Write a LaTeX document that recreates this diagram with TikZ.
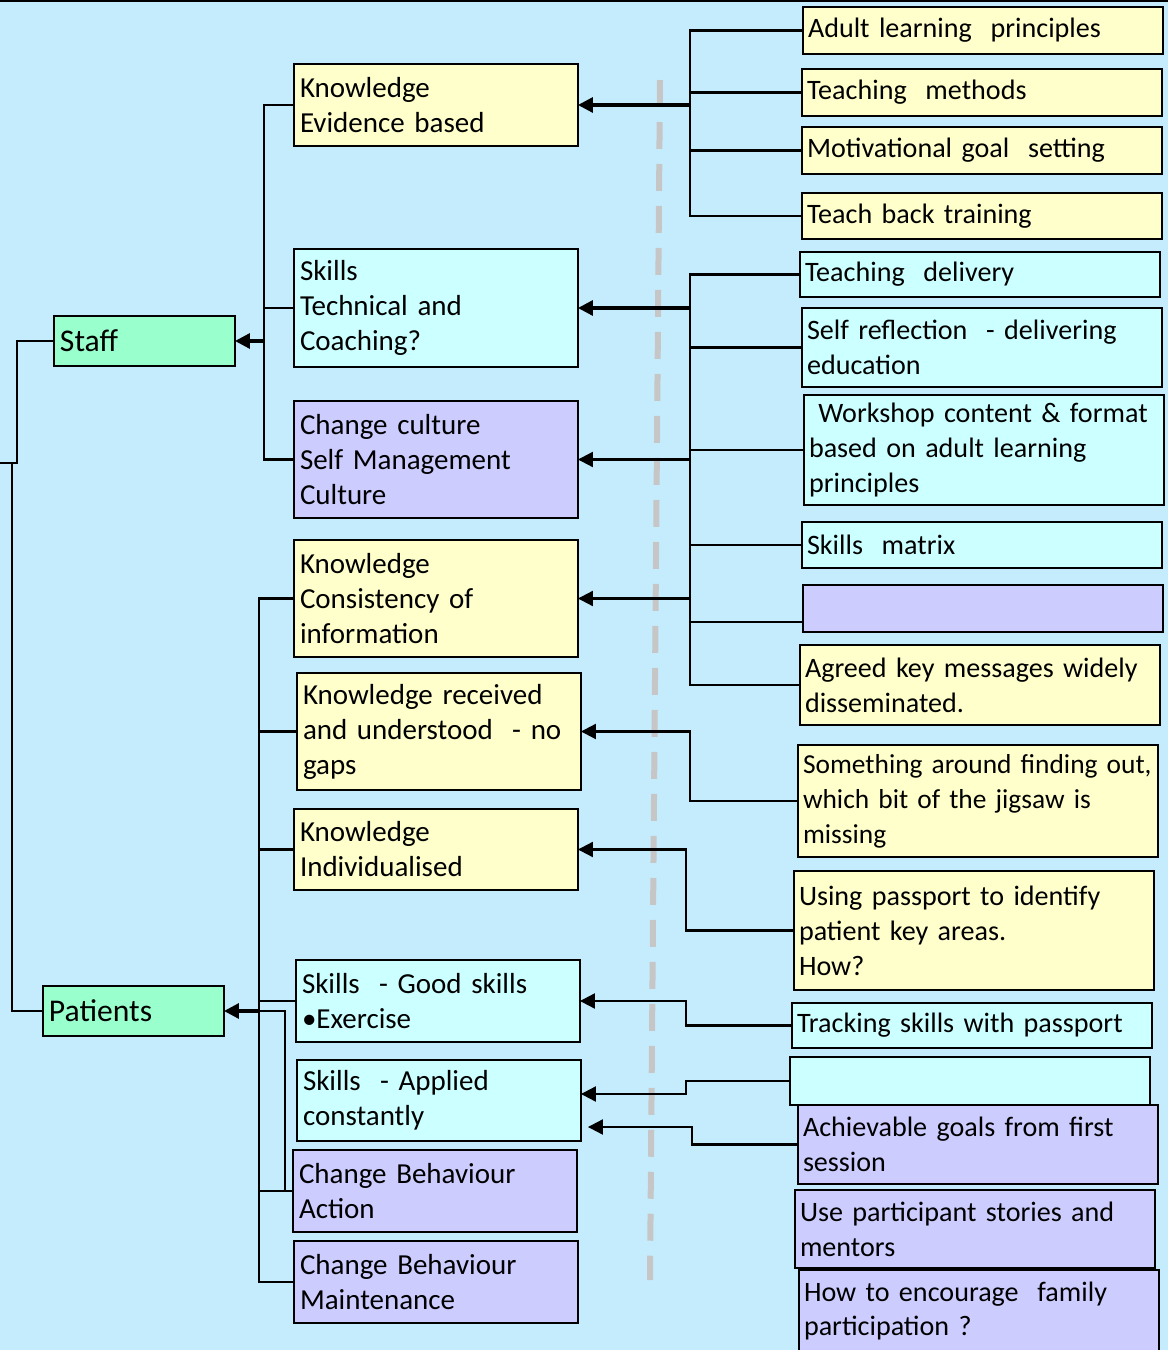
\documentclass[tikz,border=0pt]{standalone}
\usepackage{fontspec}
\setmainfont{Carlito}
\definecolor{slideblue}{RGB}{197, 236, 253}
\definecolor{boxyellow}{RGB}{255, 255, 204}
\definecolor{boxcyan}{RGB}{204, 255, 255}
\definecolor{boxlilac}{RGB}{204, 204, 255}
\definecolor{boxgreen}{RGB}{153, 255, 204}
\definecolor{dashgrey}{RGB}{198, 198, 198}
\usetikzlibrary{arrows.meta}

\begin{document}
\begin{tikzpicture}[x=0.02cm, y=-0.02cm,
    box/.style={draw, line width=1.2pt, anchor=north west, align=left, outer sep=0pt,
      inner ysep=0pt, font=\fontsize{16}{19.9}\selectfont,
      execute at begin node={\hyphenpenalty=10000\relax}},
    mid/.style={box, inner xsep=0.12cm, text width=5.44cm, font=\fontsize{16.5}{19.9}\selectfont},
    rgt/.style={box, inner xsep=0.1cm, text width=7cm},
    top/.style={box, inner xsep=0.12cm, text width=3.38cm, minimum height=1cm,
      fill=boxgreen, font=\fontsize{18}{21}\selectfont},
    link/.style={line width=1.2pt},
    feed/.style={line width=1.2pt, -{Triangle[length=0.3cm, width=0.3cm]}},
    mainfeed/.style={feed, line width=1.8pt}]
  \fill[slideblue] (0,0) rectangle (1168,1350);
  \useasboundingbox (0,0) rectangle (1168,1350);
  \draw[line width=0.05cm] (0,1) -- (1168,1);

  % dashed divider
  \draw[dashgrey, line width=0.12cm, dash pattern=on 0.54cm off 0.3cm] (660,80) -- (650,1280);

  % left column
  \node[top] (staff) at (54,316) {Staff};
  \node[top] (pat) at (43,986) {Patients};

  % middle column
  \node[mid, fill=boxyellow, minimum height=1.64cm] (keb) at (294,64) {Knowledge\\Evidence based};
  \node[mid, fill=boxcyan, minimum height=2.36cm] (skt) at (294,249) {Skills\\Technical and\\Coaching?};
  \node[mid, fill=boxlilac, minimum height=2.34cm] (chc) at (294,401) {Change culture\\Self Management\\Culture};
  \node[mid, fill=boxyellow, minimum height=2.34cm] (kci) at (294,540) {Knowledge\\Consistency of\\information};
  \node[mid, fill=boxyellow, minimum height=2.34cm] (krec) at (297,673) {Knowledge received\\and understood~ - no\\gaps};
  \node[mid, fill=boxyellow, minimum height=1.62cm] (kind) at (294,809) {Knowledge\\Individualised};
  \node[mid, fill=boxcyan, minimum height=1.64cm] (sgood) at (296,960) {Skills~ - Good skills\\\textbullet Exercise};
  \node[mid, fill=boxcyan, minimum height=1.62cm] (sapp) at (297,1060) {Skills~ - Applied\\constantly};
  \node[mid, fill=boxlilac, minimum height=1.64cm] (cba) at (293,1150) {Change Behaviour\\Action};
  \node[mid, fill=boxlilac, minimum height=1.64cm] (cbm) at (294,1241) {Change Behaviour\\Maintenance};

  % right column
  \node[rgt, fill=boxyellow, minimum height=0.94cm] (adult) at (803,7) {Adult learning~ principles};
  \node[rgt, fill=boxyellow, minimum height=0.94cm] (tmeth) at (802,69) {Teaching~ methods};
  \node[rgt, fill=boxyellow, minimum height=0.94cm] (motiv) at (802,127) {Motivational goal~ setting};
  \node[rgt, fill=boxyellow, minimum height=0.92cm] (tback) at (802,193) {Teach back training};
  \node[rgt, fill=boxcyan, minimum height=0.9cm] (tdel) at (800,252) {Teaching~ delivery};
  \node[rgt, fill=boxcyan, minimum height=1.58cm] (srefl) at (802,308) {Self reflection~ - delivering\\education};
  \node[rgt, fill=boxcyan, minimum height=2.2cm] (wshop) at (804,395) {\ Workshop content \& format\\based on adult learning\\principles};
  \node[rgt, fill=boxcyan, minimum height=0.92cm] (smat) at (802,522) {Skills~ matrix};
  \node[rgt, fill=boxlilac, minimum height=0.94cm] (blankl) at (803,585) {};
  \node[rgt, fill=boxyellow, minimum height=1.6cm] (agreed) at (800,645) {Agreed key messages widely\\disseminated.};
  \node[rgt, fill=boxyellow, minimum height=2.24cm, font=\fontsize{15.6}{19.9}\selectfont] (jigsaw) at (798,745) {\mbox{Something around finding out,}\\which bit of the jigsaw is\\missing};
  \node[rgt, fill=boxyellow, minimum height=2.38cm] (passport) at (794,871) {Using passport to identify\\patient key areas.\\How?};
  \node[rgt, fill=boxcyan, minimum height=0.9cm] (track) at (792,1003) {Tracking skills with passport};
  \node[rgt, fill=boxcyan, minimum height=0.96cm] (blankc) at (790,1057) {};
  \node[rgt, fill=boxlilac, minimum height=1.58cm] (goals) at (798,1105) {Achievable goals from first\\session};
  \node[rgt, fill=boxlilac, minimum height=1.56cm] (stories) at (795,1190) {Use participant stories and\\mentors};
  \node[rgt, fill=boxlilac, minimum height=1.64cm] (family) at (799,1270) {How to encourage~ family\\participation ?};

  % buses
  \coordinate (rbus) at (690,0);
  \coordinate (sbus) at (264,0);
  \coordinate (pbus) at (259,0);

  % right side -> knowledge evidence based
  \draw[link] (adult.west) -- (adult.west -| rbus) -- (tback.west -| rbus) -- (tback.west);
  \draw[link] (tmeth.west) -- (tmeth.west -| rbus);
  \draw[link] (motiv.west) -- (motiv.west -| rbus);
  \draw[mainfeed] (keb.east -| rbus) -- (keb.east);

  % right side -> skills, culture, consistency
  \draw[link] (tdel.west) -- (tdel.west -| rbus) -- (agreed.west -| rbus) -- (agreed.west);
  \draw[link] (srefl.west) -- (srefl.west -| rbus);
  \draw[link] (wshop.west) -- (wshop.west -| rbus);
  \draw[link] (smat.west) -- (smat.west -| rbus);
  \draw[link] ([yshift=-0.27cm]blankl.west) -- ++(-113,0);
  \draw[mainfeed] (skt.east -| rbus) -- (skt.east);
  \draw[feed] (chc.east -| rbus) -- (chc.east);
  \draw[feed] (kci.east -| rbus) -- (kci.east);

  % single feeds
  \draw[feed] (jigsaw.west) -- ++(-108,0) |- (krec.east);
  \draw[feed] (passport.west) -- ++(-108,0) |- (kind.east);
  \draw[feed] (track.west) -- ++(-106,0) |- (sgood.east);
  \draw[feed] (blankc.west) -- ++(-104,0) |- ([yshift=0.13cm]sapp.east);
  \draw[feed] (goals.west) -- ++(-106,0) |- ([xshift=0.14cm, yshift=-0.53cm]sapp.east);

  % staff tree
  \draw[link] (keb.west) -- (keb.west -| sbus) -- (chc.west -| sbus) -- (chc.west);
  \draw[link] (skt.west) -- (skt.west -| sbus);
  \draw[mainfeed] (staff.east -| sbus) -- (staff.east);

  % patients tree
  \draw[link] (kci.west) -- (kci.west -| pbus) -- (cbm.west -| pbus) -- (cbm.west);
  \draw[link] (krec.west) -- (krec.west -| pbus);
  \draw[link] (kind.west) -- (kind.west -| pbus);
  \draw[link] (sgood.west) -- (sgood.west -| pbus);
  \draw[link] (cba.west) -- (cba.west -| pbus);
  \draw[link] (pat.east -| pbus) -- ++(26,0) |- (cba.west);
  \draw[mainfeed] (pat.east -| pbus) -- (pat.east);

  % trunk
  \draw[link] (staff.west) -- ++(-37,0) -- (17,463) -- (0,463);
  \draw[link] (12,463) |- (pat.west);
\end{tikzpicture}
\end{document}
